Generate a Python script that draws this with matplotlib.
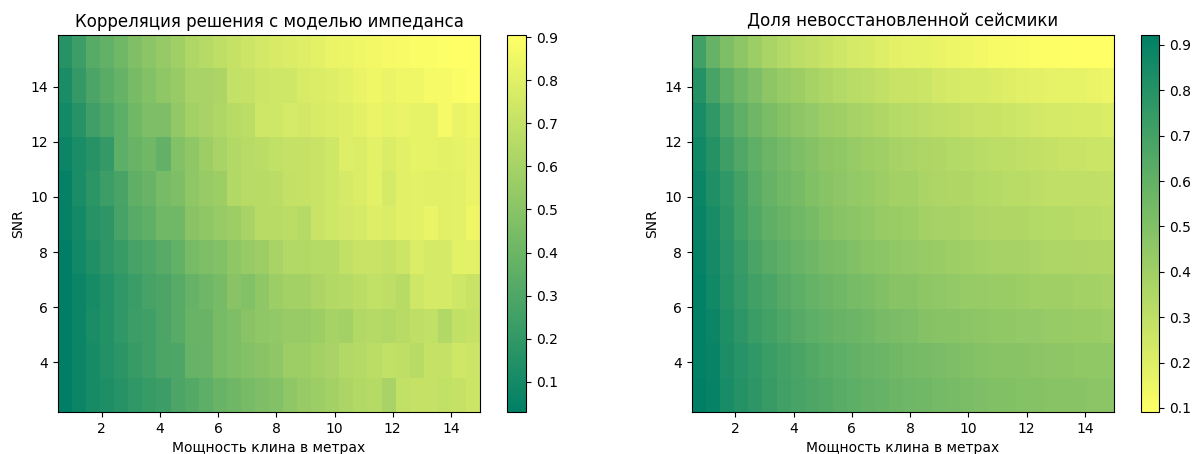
import numpy as np
import matplotlib.pyplot as plt

# wedge thickness range (m) and SNR range covered by the grids
thickness_range = (0.5, 15.0)
snr_range = (2.2, 15.87)

# correlation of inversion result with impedance model, rows from high SNR to low SNR
corr = np.array([
    [0.16, 0.24, 0.33, 0.37, 0.42, 0.47, 0.51, 0.54, 0.58, 0.63, 0.65, 0.68, 0.71, 0.73, 0.75, 0.77, 0.78, 0.79, 0.81, 0.83, 0.84, 0.85, 0.86, 0.87, 0.88, 0.89, 0.89, 0.90, 0.905, 0.90],
    [0.12, 0.21, 0.29, 0.34, 0.38, 0.44, 0.48, 0.52, 0.55, 0.61, 0.61, 0.62, 0.70, 0.71, 0.73, 0.74, 0.74, 0.77, 0.78, 0.79, 0.81, 0.83, 0.85, 0.83, 0.85, 0.85, 0.87, 0.87, 0.89, 0.90],
    [0.10, 0.16, 0.25, 0.30, 0.35, 0.42, 0.46, 0.46, 0.53, 0.59, 0.61, 0.63, 0.66, 0.67, 0.74, 0.74, 0.76, 0.75, 0.77, 0.78, 0.79, 0.81, 0.83, 0.82, 0.83, 0.82, 0.82, 0.87, 0.83, 0.85],
    [0.07, 0.12, 0.16, 0.21, 0.35, 0.39, 0.42, 0.37, 0.48, 0.52, 0.57, 0.61, 0.64, 0.66, 0.67, 0.69, 0.71, 0.71, 0.72, 0.74, 0.79, 0.78, 0.81, 0.78, 0.80, 0.82, 0.82, 0.81, 0.82, 0.83],
    [0.05, 0.12, 0.18, 0.24, 0.28, 0.36, 0.39, 0.44, 0.46, 0.52, 0.55, 0.57, 0.64, 0.66, 0.66, 0.67, 0.70, 0.71, 0.72, 0.74, 0.76, 0.78, 0.81, 0.76, 0.80, 0.81, 0.80, 0.80, 0.81, 0.83],
    [0.05, 0.10, 0.16, 0.19, 0.27, 0.33, 0.36, 0.42, 0.42, 0.50, 0.52, 0.55, 0.57, 0.61, 0.66, 0.66, 0.67, 0.65, 0.72, 0.74, 0.75, 0.76, 0.79, 0.78, 0.80, 0.81, 0.83, 0.80, 0.81, 0.85],
    [0.03, 0.09, 0.14, 0.19, 0.22, 0.27, 0.30, 0.33, 0.37, 0.44, 0.46, 0.48, 0.52, 0.55, 0.57, 0.61, 0.64, 0.64, 0.65, 0.65, 0.69, 0.72, 0.72, 0.71, 0.73, 0.78, 0.76, 0.76, 0.81, 0.81],
    [0.03, 0.07, 0.11, 0.15, 0.20, 0.23, 0.27, 0.29, 0.33, 0.38, 0.41, 0.44, 0.50, 0.48, 0.52, 0.57, 0.59, 0.59, 0.62, 0.64, 0.65, 0.67, 0.69, 0.68, 0.66, 0.74, 0.76, 0.76, 0.74, 0.72],
    [0.03, 0.07, 0.12, 0.15, 0.20, 0.24, 0.25, 0.29, 0.33, 0.39, 0.39, 0.44, 0.46, 0.50, 0.52, 0.53, 0.55, 0.55, 0.57, 0.60, 0.59, 0.64, 0.65, 0.64, 0.66, 0.68, 0.69, 0.64, 0.69, 0.71],
    [0.03, 0.07, 0.11, 0.15, 0.18, 0.22, 0.25, 0.29, 0.30, 0.38, 0.39, 0.44, 0.46, 0.48, 0.50, 0.52, 0.57, 0.57, 0.59, 0.61, 0.64, 0.65, 0.67, 0.69, 0.68, 0.66, 0.71, 0.71, 0.74, 0.73],
    [0.032, 0.07, 0.11, 0.13, 0.16, 0.20, 0.22, 0.24, 0.29, 0.32, 0.35, 0.39, 0.41, 0.44, 0.46, 0.48, 0.52, 0.55, 0.57, 0.59, 0.62, 0.64, 0.65, 0.61, 0.69, 0.71, 0.71, 0.69, 0.71, 0.73],
])

# fraction of unrecovered seismic, rows from high SNR to low SNR
residual = np.array([
    [0.71, 0.59, 0.51, 0.46, 0.41, 0.37, 0.34, 0.31, 0.29, 0.27, 0.25, 0.23, 0.22, 0.20, 0.18, 0.17, 0.17, 0.16, 0.15, 0.14, 0.13, 0.12, 0.12, 0.11, 0.10, 0.10, 0.095, 0.091, 0.091, 0.091],
    [0.80, 0.69, 0.61, 0.55, 0.51, 0.46, 0.43, 0.41, 0.38, 0.36, 0.34, 0.32, 0.31, 0.29, 0.27, 0.27, 0.26, 0.24, 0.23, 0.22, 0.22, 0.21, 0.20, 0.19, 0.18, 0.17, 0.17, 0.17, 0.16, 0.15],
    [0.84, 0.76, 0.67, 0.61, 0.56, 0.52, 0.49, 0.46, 0.44, 0.41, 0.40, 0.38, 0.37, 0.35, 0.33, 0.32, 0.31, 0.30, 0.29, 0.28, 0.27, 0.27, 0.26, 0.25, 0.24, 0.23, 0.23, 0.22, 0.22, 0.21],
    [0.86, 0.80, 0.72, 0.66, 0.61, 0.57, 0.54, 0.51, 0.49, 0.46, 0.45, 0.43, 0.41, 0.40, 0.38, 0.37, 0.36, 0.35, 0.34, 0.33, 0.32, 0.31, 0.31, 0.30, 0.29, 0.28, 0.27, 0.27, 0.26, 0.26],
    [0.88, 0.82, 0.76, 0.70, 0.63, 0.59, 0.55, 0.53, 0.50, 0.48, 0.46, 0.44, 0.43, 0.41, 0.39, 0.39, 0.37, 0.36, 0.35, 0.35, 0.34, 0.33, 0.32, 0.32, 0.31, 0.30, 0.30, 0.30, 0.30, 0.29],
    [0.89, 0.84, 0.78, 0.71, 0.65, 0.61, 0.58, 0.55, 0.53, 0.50, 0.48, 0.47, 0.45, 0.43, 0.42, 0.41, 0.39, 0.38, 0.38, 0.37, 0.36, 0.35, 0.35, 0.35, 0.34, 0.33, 0.33, 0.32, 0.32, 0.31],
    [0.90, 0.85, 0.79, 0.74, 0.68, 0.64, 0.61, 0.58, 0.56, 0.53, 0.52, 0.50, 0.48, 0.47, 0.45, 0.44, 0.43, 0.42, 0.41, 0.40, 0.39, 0.38, 0.38, 0.38, 0.37, 0.36, 0.36, 0.36, 0.35, 0.35],
    [0.91, 0.86, 0.80, 0.75, 0.71, 0.68, 0.64, 0.62, 0.59, 0.57, 0.55, 0.53, 0.52, 0.50, 0.48, 0.48, 0.46, 0.45, 0.44, 0.43, 0.43, 0.42, 0.42, 0.41, 0.40, 0.40, 0.40, 0.39, 0.39, 0.38],
    [0.91, 0.88, 0.82, 0.77, 0.73, 0.70, 0.67, 0.64, 0.62, 0.60, 0.58, 0.57, 0.55, 0.53, 0.52, 0.51, 0.49, 0.48, 0.48, 0.47, 0.46, 0.45, 0.45, 0.44, 0.44, 0.43, 0.43, 0.42, 0.42, 0.41],
    [0.91, 0.89, 0.83, 0.79, 0.76, 0.73, 0.70, 0.68, 0.65, 0.63, 0.62, 0.60, 0.58, 0.57, 0.55, 0.54, 0.53, 0.52, 0.51, 0.50, 0.49, 0.48, 0.48, 0.48, 0.47, 0.46, 0.46, 0.45, 0.45, 0.45],
    [0.922, 0.90, 0.84, 0.80, 0.77, 0.74, 0.71, 0.69, 0.67, 0.65, 0.63, 0.62, 0.60, 0.59, 0.57, 0.56, 0.55, 0.54, 0.53, 0.52, 0.51, 0.50, 0.50, 0.49, 0.49, 0.48, 0.48, 0.48, 0.47, 0.47],
])

extent = [thickness_range[0], thickness_range[1], snr_range[0], snr_range[1]]

fig = plt.figure(figsize=(11.92, 4.54), dpi=100)

ax1 = fig.add_axes([0.0487, 0.0925, 0.354, 0.8305])
cax1 = fig.add_axes([0.4253, 0.0925, 0.016, 0.8305])
ax2 = fig.add_axes([0.5803, 0.0925, 0.3542, 0.8305])
cax2 = fig.add_axes([0.957, 0.0925, 0.0155, 0.8305])

im1 = ax1.imshow(corr, extent=extent, aspect="auto", cmap="summer")
ax1.set_title("Корреляция решения с моделью импеданса", fontsize=12)
ax1.set_xlabel("Мощность клина в метрах")
ax1.set_ylabel("SNR")
fig.colorbar(im1, cax=cax1)

im2 = ax2.imshow(residual, extent=extent, aspect="auto", cmap="summer_r")
ax2.set_title("Доля невосстановленной сейсмики", fontsize=12)
ax2.set_xlabel("Мощность клина в метрах")
ax2.set_ylabel("SNR")
fig.colorbar(im2, cax=cax2)

fig.savefig("out.png", dpi=100)
